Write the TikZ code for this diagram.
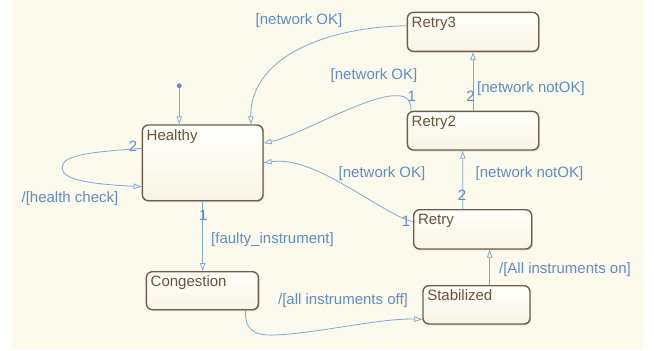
\documentclass[tikz,border=0pt]{standalone}
\usepackage{fontspec}
\setmainfont{Liberation Sans}
\usetikzlibrary{calc,arrows.meta,shadows}
\definecolor{chartbg}{RGB}{252,250,236}
\definecolor{boxtop}{RGB}{255,255,251}
\definecolor{boxbot}{RGB}{249,245,229}
\definecolor{boxline}{RGB}{112,94,76}
\definecolor{boxtext}{RGB}{110,82,56}
\definecolor{trline}{RGB}{128,170,214}
\definecolor{trtext}{RGB}{94,142,202}

\begin{document}
\begin{tikzpicture}[x=1pt,y=-1pt,
	state/.style={draw=boxline, line width=1.4pt, rounded corners=6pt, anchor=north west,
		top color=boxtop, bottom color=boxbot, inner sep=0pt,
		drop shadow={shadow xshift=1.2pt, shadow yshift=-1.3pt, opacity=0.3}},
	statename/.style={text=boxtext, inner sep=0pt, anchor=north west, xshift=4.8pt, yshift=-4.8pt},
	trans/.style={draw=trline, line width=0.8pt, -{Triangle[open,length=8pt,width=5.5pt]}},
	trlabel/.style={text=trtext, inner sep=0pt},
	prio/.style={text=trtext, inner sep=0pt},
	font=\fontsize{15}{18}\selectfont]
	%CANVAS
	\useasboundingbox (0,0) rectangle (654,351);
	\fill[white] (0,0) rectangle (654,351);
	\fill[chartbg] (12,0) rectangle (643,348.7);

	%STATES
	\node[state, minimum width=131.3pt, minimum height=39pt,
		label={[statename]north west:Retry3}] (retry3) at (406.7,11.7) {};
	\node[state, minimum width=131.3pt, minimum height=38.6pt,
		label={[statename]north west:Retry2}] (retry2) at (406.7,110.7) {};
	\node[state, minimum width=118pt, minimum height=39.3pt,
		label={[statename]north west:Retry}] (retry) at (413,209) {};
	\node[state, minimum width=120.6pt, minimum height=75.7pt,
		label={[statename]north west:Healthy}] (healthy) at (141.7,124.3) {};
	\node[state, minimum width=112pt, minimum height=38pt,
		label={[statename]north west:Congestion}] (congestion) at (145.7,271) {};
	\node[state, minimum width=107pt, minimum height=38.3pt,
		label={[statename]north west:Stabilized}] (stab) at (422.3,285) {};

	%DEFAULT TRANSITION
	\node[circle, fill=trtext, inner sep=0pt, minimum size=4.8pt] (init) at (179.3,85.7) {};
	\draw[trans] (init) -- (init |- healthy.north);

	%TRANSITIONS
	\draw[trans] ($(retry3.north west)+(0,14)$) .. controls (320,27.5) and (250,60) .. ($(healthy.north east)+(-12.8,0)$);
	\draw[trans] ($(retry2.north west)+(4.3,0)$) .. controls (411,98) and (405,95.5) .. (395,95.7)
		.. controls (365,96) and (300,135) .. ($(healthy.east)+(0,-19.6)$);
	\draw[trans] ($(retry.west)+(0,-7.5)$) .. controls (380,213) and (315,155) .. (healthy.east);
	\draw[trans] (retry2.north) -- (retry3.south);
	\draw[trans] ($(retry.north)+(-10,0)$) -- ($(retry2.south)+(-10.35,0)$);
	\draw[trans] ($(stab.north)+(13.2,0)$) -- ($(retry.south)+(17,0)$);
	\draw[trans] (healthy.south) -- (healthy.south |- congestion.north);
	\draw[trans] ($(healthy.west)+(0,-14.45)$) .. controls (90,152) and (62,155) .. (62,167.7)
		.. controls (62,180) and (90,184) .. ($(healthy.west)+(0,23.85)$);		%self loop
	\draw[trans] ($(congestion.south east)+(-13.4,0)$) .. controls (244,330) and (255,336) .. (275,335)
		.. controls (320,333) and (380,318) .. ($(stab.west)+(0,14.5)$);

	%PRIORITIES
	\node[prio] (p_loop) at (133,146.7) {2};
	\node[prio] (p_faulty) at (203.3,215) {1};
	\node[prio] (p_r2ok) at (411.7,96.7) {1};
	\node[prio] (p_r2nok) at (470.5,96.7) {2};
	\node[prio] (p_r1nok) at (462,195) {2};
	\node[prio] (p_r1ok) at (406,221) {1};

	%LABELS
	\node[trlabel] (l_r3ok) at (299,20.7) {[network OK]};
	\node[trlabel] (l_r2ok) at (374,76) {[network OK]};
	\node[trlabel] (l_r1ok) at (382,173.3) {[network OK]};
	\node[trlabel] (l_r2nok) at (531,88.3) {[network notOK]};
	\node[trlabel] (l_r1nok) at (529.5,173.3) {[network notOK]};
	\node[trlabel] (l_check) at (70,198.7) {/[health check]};
	\node[trlabel] (l_faulty) at (272.5,240) {[faulty\_instrument]};
	\node[trlabel] (l_off) at (343,301) {/[all instruments off]};
	\node[trlabel] (l_on) at (565,270) {/[All instruments on]};
\end{tikzpicture}
\end{document}
